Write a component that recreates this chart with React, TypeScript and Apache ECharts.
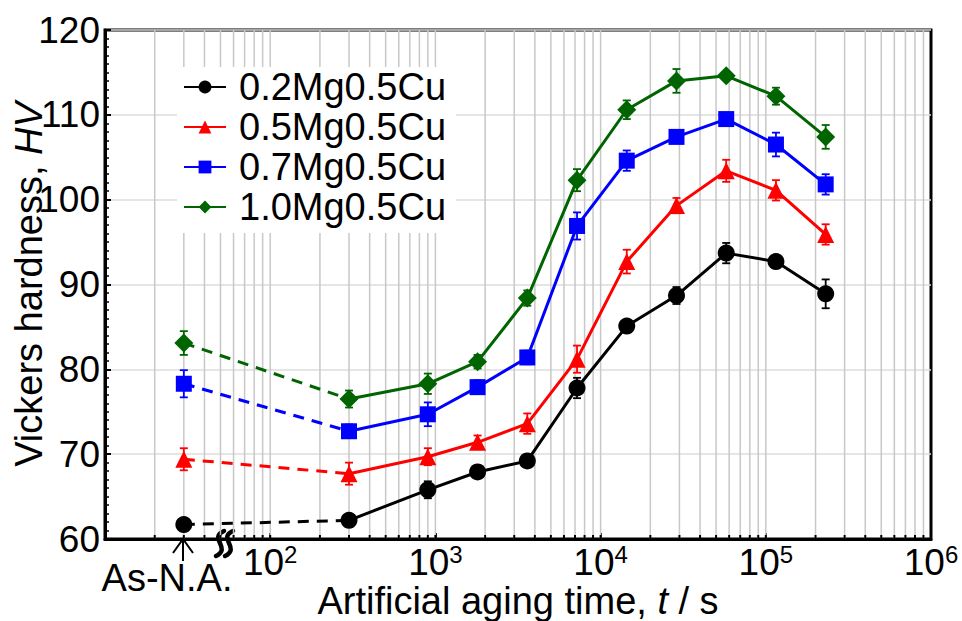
import React, { useEffect, useRef } from 'react';
import * as echarts from 'echarts';

const FONT = "'Liberation Sans', Arial, Helvetica, sans-serif";

const SERIES_NAMES = ['0.2Mg0.5Cu', '0.5Mg0.5Cu', '0.7Mg0.5Cu', '1.0Mg0.5Cu'];
const COLORS = ['#000000', '#ff0000', '#0000ff', '#006400'];
const SYMBOLS = ['circle', 'triangle', 'rect', 'diamond'];
const SYMBOL_SIZES = [17, 17, 16, 19];

// x position used for the as-naturally-aged state, then aging times (s)
const AS_NA_TIME = 30;
const AGING_TIMES = [300, 900, 1800, 3600, 7200, 14400, 28800, 57600, 115200, 230400];

// Hardness: first value = As-N.A., then one per aging time
const HV_02 = [61.7, 62.2, 65.8, 67.9, 69.2, 77.8, 85.1, 88.7, 93.7, 92.7, 88.9];
const HV_05 = [69.4, 67.7, 69.7, 71.4, 73.6, 81.2, 92.7, 99.3, 103.4, 101.1, 95.9];
const HV_07 = [78.3, 72.7, 74.7, 77.9, 81.4, 96.9, 104.6, 107.4, 109.5, 106.5, 101.8];
const HV_10 = [83.1, 76.5, 78.3, 80.9, 88.4, 102.3, 110.6, 114.0, 114.6, 112.2, 107.4];

// Error (±) for each point
const ERR_02 = [0.2, 0.3, 1.0, 0.4, 0.4, 1.2, 0.5, 1.0, 1.2, 0.4, 1.7];
const ERR_05 = [1.3, 1.3, 1.0, 0.8, 1.2, 1.6, 1.4, 0.9, 1.3, 1.2, 1.2];
const ERR_07 = [1.6, 0.8, 1.4, 0.8, 0.8, 1.6, 1.2, 0.5, 0.5, 1.4, 1.2];
const ERR_10 = [1.4, 1.0, 1.2, 0.8, 0.9, 1.3, 1.1, 1.4, 0.4, 1.0, 1.4];

const HV_ALL = [HV_02, HV_05, HV_07, HV_10];
const ERR_ALL = [ERR_02, ERR_05, ERR_07, ERR_10];

const Y_MIN = 60;
const Y_MAX = 120;
const Y_INTERVAL = 10;
const X_MIN = 10;
const X_MAX = 1000000;
const DECADES = [10, 100, 1000, 10000, 100000];
const MULTIPLIERS = [1, 2, 3, 4, 5, 6, 7, 8, 9];

const LABEL_SIZE = 37;
const TITLE_SIZE = 38;

export default function App() {
  const ref = useRef<HTMLDivElement>(null);

  useEffect(() => {
    if (!ref.current) return;
    const chart = echarts.init(ref.current, null, { renderer: 'svg' });

    const xGridValues = DECADES.flatMap((d) => MULTIPLIERS.map((m) => d * m)).filter(
      (v) => v > X_MIN && v < X_MAX
    );
    const allTimes = [AS_NA_TIME, ...AGING_TIMES];

    const series: any[] = [];

    series.push({
      type: 'custom',
      name: 'xgrid',
      silent: true,
      z: 1,
      data: xGridValues.map((v) => [v, Y_MIN]),
      encode: { x: 0, y: 1 },
      renderItem: (_params: any, api: any) => {
        const v = api.value(0);
        const b = api.coord([v, Y_MIN]);
        const t = api.coord([v, Y_MAX]);
        return {
          type: 'group',
          children: [
            {
              type: 'line',
              shape: { x1: b[0], y1: t[1], x2: b[0], y2: b[1] },
              style: { stroke: '#c8c8c8', lineWidth: 1.5 },
            },
            {
              type: 'line',
              shape: { x1: b[0], y1: b[1], x2: b[0], y2: b[1] - 4 },
              style: { stroke: '#000', lineWidth: 2 },
            },
          ],
        };
      },
    });

    SERIES_NAMES.forEach((name, i) => {
      const hv = HV_ALL[i];
      const err = ERR_ALL[i];
      const color = COLORS[i];
      series.push({
        type: 'custom',
        name: 'err' + i,
        silent: true,
        z: 3,
        data: allTimes.map((t, k) => [t, hv[k] - err[k], hv[k] + err[k]]),
        encode: { x: 0, y: [1, 2] },
        renderItem: (_params: any, api: any) => {
          const x = api.value(0);
          const lo = api.coord([x, api.value(1)]);
          const hi = api.coord([x, api.value(2)]);
          const w = 4;
          const st = { stroke: color, lineWidth: 1.8 };
          return {
            type: 'group',
            children: [
              { type: 'line', shape: { x1: lo[0], y1: lo[1], x2: hi[0], y2: hi[1] }, style: st },
              { type: 'line', shape: { x1: lo[0] - w, y1: lo[1], x2: lo[0] + w, y2: lo[1] }, style: st },
              { type: 'line', shape: { x1: hi[0] - w, y1: hi[1], x2: hi[0] + w, y2: hi[1] }, style: st },
            ],
          };
        },
      });
      series.push({
        type: 'line',
        name: 'dash' + i,
        z: 4,
        symbol: SYMBOLS[i],
        symbolSize: SYMBOL_SIZES[i],
        itemStyle: { color },
        lineStyle: { color, width: 3, type: [11, 8] },
        data: [[AS_NA_TIME, hv[0]], { value: [AGING_TIMES[0], hv[1]], symbol: 'none' }],
      });
      series.push({
        type: 'line',
        name,
        z: 5,
        symbol: SYMBOLS[i],
        symbolSize: SYMBOL_SIZES[i],
        showAllSymbol: true,
        itemStyle: { color },
        lineStyle: { color, width: 3 },
        data: AGING_TIMES.map((t, k) => [t, hv[k + 1]]),
      });
    });

    const option: any = {
      animation: false,
      backgroundColor: '#ffffff',
      textStyle: { fontFamily: FONT },
      grid: {
        left: 105,
        right: 31,
        top: 30,
        bottom: 82,
        containLabel: false,
        outerBoundsMode: 'none',
        show: true,
        borderColor: '#000',
        borderWidth: 3,
        backgroundColor: 'transparent',
      },
      legend: {
        data: SERIES_NAMES,
        orient: 'vertical',
        left: 177,
        top: 67,
        padding: [0, 10, 6, 6],
        itemWidth: 42,
        itemHeight: 16,
        itemGap: 0,
        backgroundColor: '#ffffff',
        textStyle: {
          fontSize: TITLE_SIZE,
          lineHeight: 40,
          color: '#000',
          fontFamily: FONT,
          padding: [0, 0, 0, 8],
        },
      },
      xAxis: {
        type: 'log',
        logBase: 10,
        min: X_MIN,
        max: X_MAX,
        name: '{n|Artificial aging time, }{i|t}{n| / s}',
        nameLocation: 'middle',
        nameGap: 43,
        nameMoveOverlap: false,
        nameTextStyle: {
          rich: {
            n: { fontSize: TITLE_SIZE, color: '#000', fontFamily: FONT },
            i: { fontSize: TITLE_SIZE, color: '#000', fontFamily: FONT, fontStyle: 'italic' },
          },
        },
        axisLine: { show: true, lineStyle: { color: '#000', width: 3 } },
        axisTick: { show: true, inside: true, length: 6, lineStyle: { color: '#000', width: 2 } },
        splitLine: { show: false },
        axisLabel: {
          margin: 3,
          showMinLabel: true,
          showMaxLabel: true,
          formatter: (value: number) => {
            if (value <= X_MIN * 1.0001) return '';
            const e = Math.round(Math.log10(value));
            return '{b|10}{s|' + e + '}';
          },
          rich: {
            b: { fontSize: LABEL_SIZE, lineHeight: 40, color: '#000', fontFamily: FONT },
            s: { fontSize: 24, lineHeight: 30, color: '#000', fontFamily: FONT, verticalAlign: 'top' },
          },
        },
      },
      yAxis: {
        type: 'value',
        min: Y_MIN,
        max: Y_MAX,
        interval: Y_INTERVAL,
        name: '{n|Vickers hardness, }{i|HV}',
        nameLocation: 'middle',
        nameRotate: 90,
        nameGap: 57,
        nameMoveOverlap: false,
        nameTextStyle: {
          rich: {
            n: { fontSize: TITLE_SIZE, color: '#000', fontFamily: FONT },
            i: { fontSize: TITLE_SIZE, color: '#000', fontFamily: FONT, fontStyle: 'italic' },
          },
        },
        axisLine: { show: true, lineStyle: { color: '#000', width: 3 } },
        axisTick: { show: true, inside: true, length: 6, lineStyle: { color: '#000', width: 2 } },
        minorTick: { show: true, splitNumber: 10, length: 4, lineStyle: { color: '#000', width: 1.5 } },
        splitLine: { show: true, lineStyle: { color: '#dcdcdc', width: 1.5 } },
        axisLabel: { fontSize: LABEL_SIZE, color: '#000', fontFamily: FONT, margin: 5 },
      },
      graphic: [
        {
          type: 'text',
          x: 167,
          y: 578,
          style: {
            text: 'As-N.A.',
            font: `${TITLE_SIZE}px ${FONT}`,
            fill: '#000',
            align: 'center',
            verticalAlign: 'middle',
          },
        },
        {
          type: 'line',
          shape: { x1: 183, y1: 540, x2: 183, y2: 561 },
          style: { stroke: '#000', lineWidth: 2 },
        },
        {
          type: 'polyline',
          shape: { points: [[173, 553], [183, 539], [193, 553]] },
          style: { stroke: '#000', lineWidth: 2, fill: null },
        },
        {
          type: 'bezierCurve',
          shape: { x1: 224, y1: 531, cpx1: 208, cpy1: 538, cpx2: 232, cpy2: 548, x2: 216, y2: 556 },
          style: { stroke: '#000', lineWidth: 4.5, fill: null, lineCap: 'round' },
        },
        {
          type: 'bezierCurve',
          shape: { x1: 233, y1: 531, cpx1: 217, cpy1: 538, cpx2: 241, cpy2: 548, x2: 225, y2: 556 },
          style: { stroke: '#000', lineWidth: 4.5, fill: null, lineCap: 'round' },
        },
      ],
      series,
    };

    chart.setOption(option);
    return () => chart.dispose();
  }, []);

  return (
    <div
      ref={ref}
      style={{ position: 'fixed', left: 0, top: 0, width: 962, height: 621, background: '#fff' }}
    />
  );
}
